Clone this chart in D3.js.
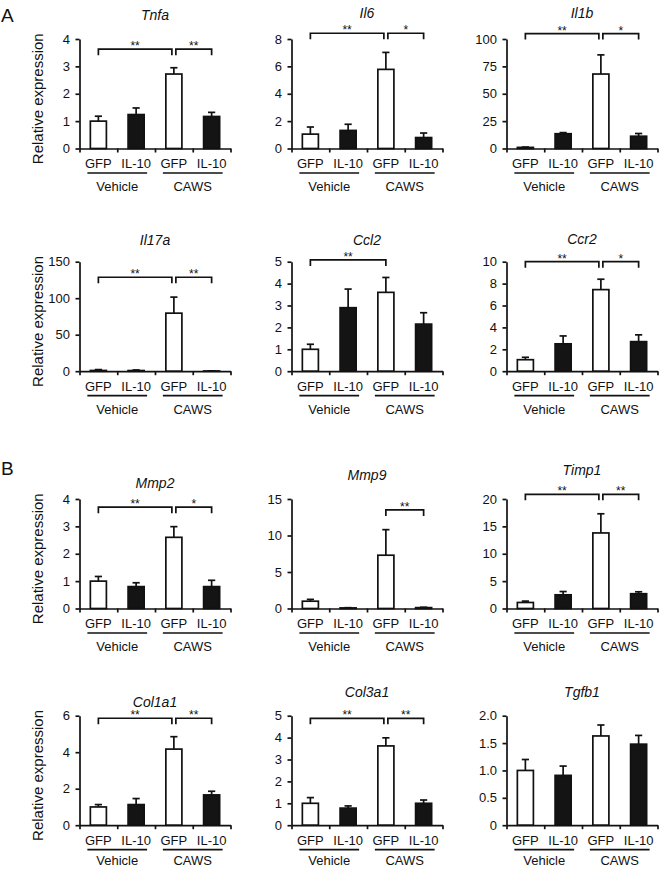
<!DOCTYPE html>
<html><head><meta charset="utf-8">
<script src="https://cdn.jsdelivr.net/npm/d3@7"></script>
<style>body{margin:0;background:#fff}svg{display:block}</style>
</head><body><svg id="c" width="660" height="869"></svg>
<script>
// ---------- data ----------
const genes = ["Tnfa","Il6","Il1b","Il17a","Ccl2","Ccr2","Mmp2","Mmp9","Timp1","Col1a1","Col3a1","Tgfb1"];
const groups = ["GFP","IL-10","GFP","IL-10"];
const conditions = ["Vehicle","CAWS"];
const panelLetters = ["A","B"];
const yLabel = "Relative expression";
const means = [
  [1.00, 1.24, 2.72, 1.17],
  [1.05, 1.32, 5.78, 0.80],
  [1.0, 13.5, 68.0, 11.2],
  [1.0, 0.9, 79.5, 0.3],
  [1.00, 2.90, 3.60, 2.15],
  [1.05, 2.50, 7.45, 2.70],
  [1.00, 0.80, 2.60, 0.80],
  [1.00, 0.08, 7.30, 0.12],
  [1.10, 2.50, 13.8, 2.70],
  [1.00, 1.13, 4.17, 1.66],
  [1.00, 0.78, 3.62, 1.00],
  [1.00, 0.91, 1.63, 1.48]
];
const sems = [
  [0.18, 0.24, 0.23, 0.15],
  [0.52, 0.45, 1.24, 0.33],
  [0.3, 1.0, 17.5, 2.5],
  [1.2, 0.8, 22.0, 0.2],
  [0.23, 0.85, 0.68, 0.52],
  [0.22, 0.72, 0.95, 0.62],
  [0.17, 0.14, 0.39, 0.23],
  [0.25, 0.03, 3.50, 0.05],
  [0.25, 0.60, 3.50, 0.35],
  [0.13, 0.33, 0.68, 0.20],
  [0.26, 0.10, 0.37, 0.15],
  [0.20, 0.17, 0.20, 0.16]
];
const yTickValues = [
  [0,1,2,3,4],[0,2,4,6,8],[0,25,50,75,100],[0,50,100,150],[0,1,2,3,4,5],[0,2,4,6,8,10],
  [0,1,2,3,4],[0,5,10,15],[0,5,10,15,20],[0,2,4,6],[0,1,2,3,4,5],[0,0.5,1,1.5,2]
];
const yTickLabels = [
  ["0","1","2","3","4"],["0","2","4","6","8"],["0","25","50","75","100"],["0","50","100","150"],
  ["0","1","2","3","4","5"],["0","2","4","6","8","10"],["0","1","2","3","4"],["0","5","10","15"],
  ["0","5","10","15","20"],["0","2","4","6"],["0","1","2","3","4","5"],["0","0.5","1.0","1.5","2.0"]
];
// significance brackets: [from group, to group, label, height in data units]
const brackets = [
  [[0,2,"**",3.63],[2,3,"**",3.63]],
  [[0,2,"**",8.42],[2,3,"*",8.42]],
  [[0,2,"**",105],[2,3,"*",105]],
  [[0,2,"**",128.7],[2,3,"**",128.7]],
  [[0,2,"**",5.08]],
  [[0,2,"**",10.0],[2,3,"*",10.0]],
  [[0,2,"**",3.7],[2,3,"*",3.7]],
  [[2,3,"**",13.5]],
  [[0,2,"**",20.85],[2,3,"**",20.85]],
  [[0,2,"**",5.86],[2,3,"**",5.86]],
  [[0,2,"**",4.88],[2,3,"**",4.88]],
  []
];
const barFill = ["#ffffff","#141414","#ffffff","#141414"];

// ---------- layout ----------
const colX = [79.5, 291.5, 506.5];
const plotW = 151;
const rowTop = [39, 261.7, 499, 715.7];
const plotH = 109.5;
const titleCY = [15, 13.3, 13.3, 240, 240, 239, 483, 475, 470, 701.7, 691.7, 691.7];
const FONT = "Arial, 'Liberation Sans', Helvetica, sans-serif";
const INK = "#111";
const SW = 1.7;
const FS = 13;

const svg = d3.select("#c");
svg.append("rect").attr("width",660).attr("height",869).attr("fill","#fff");

svg.append("text").attr("x",1).attr("y",22).text(panelLetters[0])
  .attr("font-family",FONT).attr("font-size",19).attr("fill",INK);
svg.append("text").attr("x",1).attr("y",475).text(panelLetters[1])
  .attr("font-family",FONT).attr("font-size",19).attr("fill",INK);

genes.forEach((gene, i) => {
  const col = i % 3, row = Math.floor(i / 3);
  const x0 = colX[col], top = rowTop[row], bottom = top + plotH;
  const ticks = yTickValues[i];
  const yMax = ticks[ticks.length - 1];
  const y = d3.scaleLinear().domain([0, yMax]).range([bottom, top]);
  const xb = d3.scaleBand().domain(d3.range(4)).range([x0, x0 + plotW])
    .paddingInner(0.575).paddingOuter(0.2875);
  const xl = d3.scaleLinear().domain([0, 4]).range([x0, x0 + plotW]);
  const cx = k => xb(k) + xb.bandwidth() / 2;
  const g = svg.append("g");

  // title
  g.append("text").attr("x", x0 + plotW / 2).attr("y", titleCY[i] + 5)
    .attr("text-anchor","middle").attr("font-family",FONT).attr("font-size",14)
    .attr("font-style","italic").attr("fill",INK).text(gene);

  // y label
  if (col === 0) {
    g.append("text").attr("transform", `translate(43,${(top + bottom) / 2 + 5}) rotate(-90)`)
      .attr("text-anchor","middle").attr("font-family",FONT).attr("font-size",15)
      .attr("fill",INK).text(yLabel);
  }

  // bars
  g.selectAll("rect.bar").data(means[i]).join("rect").attr("class","bar")
    .attr("x", (d, k) => xb(k)).attr("width", xb.bandwidth())
    .attr("y", d => y(d)).attr("height", d => y(0) - y(d))
    .attr("fill", (d, k) => barFill[k]).attr("stroke", INK).attr("stroke-width", SW);

  // error bars (upper only)
  const eb = g.selectAll("g.eb").data(means[i]).join("g").attr("class","eb");
  eb.append("line").attr("x1",(d,k)=>cx(k)).attr("x2",(d,k)=>cx(k))
    .attr("y1", d => y(d)).attr("y2", (d,k) => y(d + sems[i][k]))
    .attr("stroke", INK).attr("stroke-width", SW);
  eb.append("line").attr("x1",(d,k)=>cx(k)-3.6).attr("x2",(d,k)=>cx(k)+3.6)
    .attr("y1", (d,k) => y(d + sems[i][k])).attr("y2", (d,k) => y(d + sems[i][k]))
    .attr("stroke", INK).attr("stroke-width", SW);

  // y axis
  const ya = g.append("g").attr("transform", `translate(${x0},0)`)
    .call(d3.axisLeft(y).tickValues(ticks).tickFormat((d, k) => yTickLabels[i][k])
      .tickSize(4).tickSizeOuter(0).tickPadding(5.5));
  // x axis (boundary ticks)
  const xa = g.append("g").attr("transform", `translate(0,${bottom})`)
    .call(d3.axisBottom(xl).tickValues([0,1,2,3,4]).tickFormat("").tickSize(4).tickSizeOuter(0));
  [ya, xa].forEach(a => {
    a.selectAll("path,line").attr("stroke", INK).attr("stroke-width", SW);
    a.selectAll("text").attr("font-family", FONT).attr("font-size", FS).attr("fill", INK);
  });

  // group labels
  g.selectAll("text.grp").data(groups).join("text").attr("class","grp")
    .attr("x", (d,k) => cx(k)).attr("y", bottom + 19.5).attr("text-anchor","middle")
    .attr("font-family",FONT).attr("font-size",FS).attr("fill",INK).text(d => d);
  const condY = Math.min(bottom + 42.5, 865);
  conditions.forEach((c, j) => {
    const a = cx(2*j) - 11, b = cx(2*j+1) + 11;
    g.append("line").attr("x1",a).attr("x2",b).attr("y1",bottom+24.5).attr("y2",bottom+24.5)
      .attr("stroke",INK).attr("stroke-width",SW);
    g.append("text").attr("x",(a+b)/2).attr("y",condY).attr("text-anchor","middle")
      .attr("font-family",FONT).attr("font-size",FS).attr("fill",INK).text(c);
  });

  // significance brackets
  const shared = brackets[i].length > 1;
  brackets[i].forEach(([f, t, lab, h]) => {
    let xa1 = cx(f), xa2 = cx(t);
    if (shared) { if (t === 2) xa2 -= 2; if (f === 2) xa1 += 2; }
    const yy = y(h);
    g.append("path").attr("d", `M${xa1},${yy+6}V${yy}H${xa2}V${yy+6}`)
      .attr("fill","none").attr("stroke",INK).attr("stroke-width",SW);
    g.append("text").attr("x",(xa1+xa2)/2).attr("y",yy+1).attr("text-anchor","middle")
      .attr("font-family",FONT).attr("font-size",12).attr("fill",INK).text(lab);
  });
});
</script>
</body></html>
